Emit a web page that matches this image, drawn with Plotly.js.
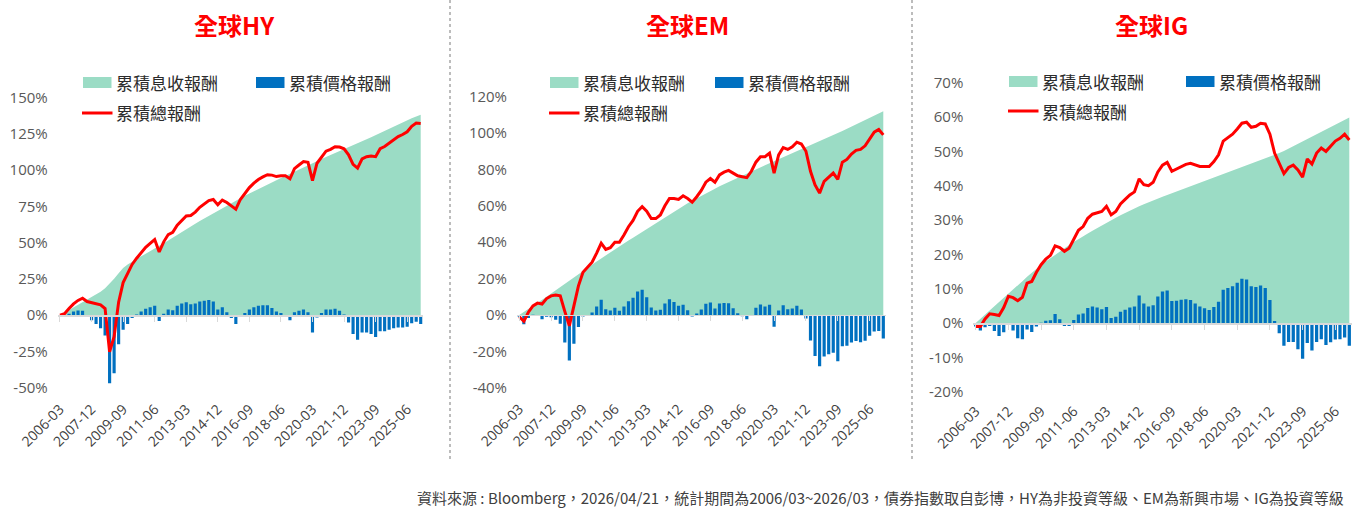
<!DOCTYPE html>
<html>
<head>
<meta charset="utf-8">
<script src="https://cdn.plot.ly/plotly-3.0.1.min.js"></script>
<style>
  html, body { margin: 0; padding: 0; background: #fff; }
  #chart { width: 1357px; height: 511px; }
</style>
</head>
<body>
<div id="chart"></div>
<script>
// quarterly points, 2006-03 .. 2026-03
const quarters = [
  "2006-03", "2006-06", "2006-09", "2006-12", "2007-03", "2007-06", "2007-09", "2007-12",
  "2008-03", "2008-06", "2008-09", "2008-12", "2009-03", "2009-06", "2009-09", "2009-12",
  "2010-03", "2010-06", "2010-09", "2010-12", "2011-03", "2011-06", "2011-09", "2011-12",
  "2012-03", "2012-06", "2012-09", "2012-12", "2013-03", "2013-06", "2013-09", "2013-12",
  "2014-03", "2014-06", "2014-09", "2014-12", "2015-03", "2015-06", "2015-09", "2015-12",
  "2016-03", "2016-06", "2016-09", "2016-12", "2017-03", "2017-06", "2017-09", "2017-12",
  "2018-03", "2018-06", "2018-09", "2018-12", "2019-03", "2019-06", "2019-09", "2019-12",
  "2020-03", "2020-06", "2020-09", "2020-12", "2021-03", "2021-06", "2021-09", "2021-12",
  "2022-03", "2022-06", "2022-09", "2022-12", "2023-03", "2023-06", "2023-09", "2023-12",
  "2024-03", "2024-06", "2024-09", "2024-12", "2025-03", "2025-06", "2025-09", "2025-12",
  "2026-03"
];
const tickLabels = ["2006-03", "2007-12", "2009-09", "2011-06", "2013-03", "2014-12",
  "2016-09", "2018-06", "2020-03", "2021-12", "2023-09", "2025-06"];

const seriesNames = ["累積息收報酬", "累積價格報酬", "累積總報酬"];
const panelTitles = ["全球HY", "全球EM", "全球IG"];
const footnote = "資料來源 : Bloomberg，2026/04/21，統計期間為2006/03~2026/03，債券指數取自彭博，HY為非投資等級、EM為新興市場、IG為投資等級";

// Global HY (%)
const hyIncome = [
  0, 1.8, 3.6, 5.3, 7.0, 8.7, 10.4, 12.2, 14.1, 16.2,
  18.6, 21.8, 25.2, 29.0, 32.5, 35.0, 37.0, 38.8, 40.6, 42.3,
  44.0, 45.7, 47.6, 49.6, 51.6, 53.6, 55.6, 57.5, 59.4, 61.3,
  63.1, 64.9, 66.7, 68.5, 70.3, 72.1, 73.9, 75.7, 77.4, 79.1,
  80.8, 82.4, 84.0, 85.6, 87.1, 88.6, 90.1, 91.6, 93.1, 94.6,
  96.1, 97.6, 99.1, 100.6, 102.0, 103.4, 104.8, 106.3, 107.7, 109.1,
  110.4, 111.7, 113.0, 114.3, 115.6, 117.0, 118.4, 119.8, 121.3, 122.8,
  124.3, 125.8, 127.3, 128.8, 130.3, 131.7, 133.1, 134.5, 135.8, 137.0,
  138.2
];
const hyPrice = [
  0, -0.8, 1.0, 2.5, 3.2, 3.0, -1.0, -3.5, -6.0, -9.0,
  -14.0, -47.0, -40.0, -20.0, -10.0, -6.0, -2.0, 0.5, 2.5, 4.5,
  5.5, 6.5, -4.0, 1.0, 4.0, 3.5, 6.5, 8.0, 9.0, 7.5,
  8.0, 9.5, 10.0, 10.5, 9.5, 4.0, 5.5, 2.0, -2.0, -6.0,
  -1.0, 1.5, 4.0, 5.5, 6.5, 6.8, 6.8, 5.0, 2.5, 1.5,
  0.0, -3.5, 2.0, 3.0, 4.0, 2.0, -12.0, -1.5, 1.5, 4.0,
  4.0, 4.5, 3.0, 0.5, -5.0, -13.0, -17.0, -12.0, -12.0, -13.0,
  -15.0, -11.0, -11.0, -10.0, -9.0, -8.5, -8.5, -8.0, -5.5, -4.5,
  -6.0
];
const hyTotal = [
  0, 1.0, 4.6, 7.8, 10.2, 11.7, 9.4, 8.7, 8.1, 7.2,
  4.6, -25.2, -14.8, 9.0, 22.5, 29.0, 35.0, 39.3, 43.1, 46.8,
  49.5, 52.2, 43.6, 50.6, 55.6, 57.1, 62.1, 65.5, 68.4, 68.8,
  71.1, 74.4, 76.7, 79.0, 79.8, 76.1, 79.4, 77.7, 75.4, 73.1,
  79.8, 83.9, 88.0, 91.1, 93.6, 95.4, 96.9, 96.6, 95.6, 96.1,
  96.1, 94.1, 101.1, 103.6, 106.0, 105.4, 92.8, 104.8, 109.2, 113.1,
  114.4, 116.2, 116.0, 114.8, 110.6, 104.0, 101.4, 107.8, 109.3, 109.8,
  109.3, 114.8, 116.3, 118.8, 121.3, 123.2, 124.6, 126.5, 130.3, 132.5,
  132.2
];

// Global EM (%)
const emIncome = [
  0, 1.6, 3.2, 4.9, 6.6, 8.3, 10.0, 11.8, 13.6, 15.4,
  17.2, 19.0, 20.8, 22.6, 24.3, 26.0, 27.7, 29.4, 31.1, 32.8,
  34.5, 36.1, 37.7, 39.3, 40.9, 42.5, 44.1, 45.7, 47.3, 48.9,
  50.5, 52.1, 53.7, 55.3, 56.9, 58.4, 59.9, 61.4, 62.8, 64.2,
  65.5, 66.8, 68.1, 69.4, 70.7, 71.9, 73.1, 74.3, 75.5, 76.7,
  77.9, 79.0, 80.1, 81.2, 82.3, 83.4, 84.5, 85.6, 86.7, 87.8,
  88.9, 90.0, 91.0, 92.0, 93.0, 94.1, 95.2, 96.4, 97.6, 98.8,
  100.0, 101.2, 102.4, 103.6, 104.8, 106.0, 107.2, 108.4, 109.6, 110.8,
  112.0
];
const emPrice = [
  -1.0, -5.1, -1.7, 0.1, -0.1, -2.3, -1.0, -1.3, -2.6, -4.9,
  -15.2, -25.0, -15.8, -6.6, -0.8, 0.0, 1.3, 4.6, 8.4, 3.2,
  2.5, 3.9, 2.3, 4.7, 7.6, 9.5, 12.9, 13.8, 9.7, 4.1,
  2.5, 2.9, 6.3, 8.7, 7.1, 5.1, 5.6, 2.6, -0.8, 0.8,
  3.0, 6.2, 6.9, 3.6, 6.3, 6.6, 6.4, 3.7, 1.0, -0.7,
  -2.4, 0.0, 3.9, 5.8, 4.7, 5.6, -6.5, 2.4, 5.3, 3.2,
  3.6, 5.0, 3.0, -2.0, -14.0, -22.6, -28.2, -22.9, -21.6, -20.8,
  -25.5, -17.2, -16.9, -15.1, -14.3, -15.0, -14.2, -11.4, -9.1, -8.8,
  -13.0
];
const emTotal = [
  -1.0, -3.5, 1.5, 5.0, 6.5, 6.0, 9.0, 10.5, 11.0, 10.5,
  2.0, -6.0, 5.0, 16.0, 23.5, 26.0, 29.0, 34.0, 39.5, 36.0,
  37.0, 40.0, 40.0, 44.0, 48.5, 52.0, 57.0, 59.5, 57.0, 53.0,
  53.0, 55.0, 60.0, 64.0, 64.0, 63.5, 65.5, 64.0, 62.0, 65.0,
  68.5, 73.0, 75.0, 73.0, 77.0, 78.5, 79.5, 78.0, 76.5, 76.0,
  75.5, 79.0, 84.0, 87.0, 87.0, 89.0, 78.0, 88.0, 92.0, 91.0,
  92.5, 95.0, 94.0, 90.0, 79.0, 71.5, 67.0, 73.5, 76.0, 78.0,
  74.5, 84.0, 85.5, 88.5, 90.5, 91.0, 93.0, 97.0, 100.5, 102.0,
  99.0
];

// Global IG (%)
const igIncome = [
  0, 1.2, 2.4, 3.6, 4.8, 6.0, 7.2, 8.4, 9.6, 10.9,
  12.2, 13.5, 14.7, 15.8, 16.9, 17.9, 18.9, 19.9, 20.9, 21.8,
  22.7, 23.6, 24.5, 25.3, 26.1, 26.9, 27.7, 28.5, 29.3, 30.0,
  30.7, 31.4, 32.1, 32.8, 33.4, 34.0, 34.6, 35.2, 35.8, 36.3,
  36.8, 37.3, 37.8, 38.3, 38.8, 39.3, 39.8, 40.3, 40.8, 41.3,
  41.8, 42.3, 42.8, 43.3, 43.8, 44.3, 44.8, 45.3, 45.8, 46.3,
  46.8, 47.3, 47.8, 48.3, 48.9, 49.5, 50.1, 50.8, 51.5, 52.2,
  52.9, 53.6, 54.3, 55.0, 55.7, 56.4, 57.1, 57.8, 58.5, 59.2,
  59.9
];
const igPrice = [
  -1.0, -2.2, -1.2, -0.9, -2.3, -3.8, -2.7, -0.6, -2.2, -4.4,
  -4.7, -1.9, -2.6, -1.0, 0.1, 0.7, 0.8, 2.6, 1.1, -0.9,
  -0.9, 0.9, 2.5, 2.8, 4.4, 4.8, 4.5, 4.0, 4.7, 1.5,
  1.8, 3.3, 3.9, 4.5, 4.8, 8.0, 5.7, 4.8, 5.2, 7.7,
  9.2, 9.5, 6.4, 6.5, 6.8, 6.9, 6.7, 5.7, 4.8, 4.3,
  3.8, 4.7, 6.2, 9.7, 10.2, 10.7, 11.7, 12.9, 12.7, 10.7,
  10.5, 10.9, 10.2, 6.7, 0.6, -3.0, -6.6, -5.5, -5.5, -7.6,
  -10.4, -5.8, -8.0, -5.5, -4.7, -6.4, -5.6, -4.8, -4.7, -4.2,
  -6.6
];
const igTotal = [
  -1.0, -1.0, 1.2, 2.7, 2.5, 2.2, 4.5, 7.8, 7.4, 6.5,
  7.5, 11.6, 12.1, 14.8, 17.0, 18.6, 19.7, 22.5, 22.0, 20.9,
  21.8, 24.5, 27.0, 28.1, 30.5, 31.7, 32.2, 32.5, 34.0, 31.5,
  32.5, 34.7, 36.0, 37.3, 38.2, 42.0, 40.3, 40.0, 41.0, 44.0,
  46.0, 46.8, 44.2, 44.8, 45.6, 46.2, 46.5, 46.0, 45.6, 45.6,
  45.6, 47.0, 49.0, 53.0, 54.0, 55.0, 56.5, 58.2, 58.5, 57.0,
  57.3, 58.2, 58.0, 55.0, 49.5, 46.5, 43.5, 45.3, 46.0, 44.6,
  42.5, 47.8, 46.3, 49.5, 51.0, 50.0, 51.5, 53.0, 53.8, 55.0,
  53.3
];

const hyTicks = [-50, -25, 0, 25, 50, 75, 100, 125, 150];
const emTicks = [-40, -20, 0, 20, 40, 60, 80, 100, 120];
const igTicks = [-20, -10, 0, 10, 20, 30, 40, 50, 60, 70];

const W = 1357, H = 511;
const px = (x) => x / W;
const py = (y) => 1 - y / H;

const GREEN = "#9BDCC5";
const BLUE = "#0070C0";
const RED = "#FF0000";
const TEXT = "#404040";
const NUM_FONT = "Open Sans, Noto Sans, sans-serif";
const CJK_FONT = "Noto Sans CJK TC, Noto Sans, sans-serif";

const panels = [
  { income: hyIncome, price: hyPrice, total: hyTotal, ticks: hyTicks,
    first: 60, last: 420.7, top: 97.7, bottom: 387.7, boxLeft: 83, box2Left: 256, legTop: 77, lineY: 113,
    titleX: 234, sepX: 450, standoff: 74 },
  { income: emIncome, price: emPrice, total: emTotal, ticks: emTicks,
    first: 519.3, last: 883.3, top: 96.7, bottom: 387.7, boxLeft: 550, box2Left: 715, legTop: 77, lineY: 113,
    titleX: 687, sepX: 912, standoff: 74 },
  { income: igIncome, price: igPrice, total: igTotal, ticks: igTicks,
    first: 975.7, last: 1349.3, top: 82.7, bottom: 391.7, boxLeft: 1009, box2Left: 1186, legTop: 76, lineY: 111,
    titleX: 1151, sepX: null, standoff: 68 }
];

const traces = [];
const layout = {
  width: W,
  height: H,
  margin: { l: 0, r: 0, t: 0, b: 0 },
  paper_bgcolor: "#fff",
  plot_bgcolor: "rgba(0,0,0,0)",
  showlegend: false,
  bargap: 0.3,
  shapes: [],
  annotations: []
};

panels.forEach((p, i) => {
  const n = quarters.length;
  const xa = i === 0 ? "x" : "x" + (i + 1);
  const ya = i === 0 ? "y" : "y" + (i + 1);
  const yo = "y" + (i + 4);
  const step = (p.last - p.first) / (n - 1);
  const lo = p.ticks[0], hi = p.ticks[p.ticks.length - 1];
  const yDom = [py(p.bottom), py(p.top)];
  const zeroPos = yDom[0] + (0 - lo) / (hi - lo) * (yDom[1] - yDom[0]);

  traces.push({
    x: quarters, y: p.income, name: seriesNames[0],
    xaxis: xa, yaxis: ya, type: "scatter", mode: "lines",
    line: { width: 0, color: GREEN }, fill: "tozeroy", fillcolor: GREEN
  });
  traces.push({
    x: quarters, y: p.price, name: seriesNames[1],
    xaxis: xa, yaxis: yo, type: "bar", marker: { color: BLUE }
  });
  traces.push({
    x: quarters, y: p.total, name: seriesNames[2],
    xaxis: xa, yaxis: yo, type: "scatter", mode: "lines",
    line: { color: RED, width: 3 }
  });

  layout["xaxis" + (i === 0 ? "" : i + 1)] = {
    type: "category",
    domain: [px(p.first - step / 2), px(p.last + step / 2)],
    range: [-0.5, n - 0.5],
    anchor: "free",
    position: zeroPos,
    tickmode: "array",
    tickvals: tickLabels,
    ticktext: tickLabels,
    ticks: "outside",
    ticklen: 5,
    tickcolor: "#D9D9D9",
    showline: true,
    linecolor: "#D9D9D9",
    linewidth: 1.5,
    tickangle: -45,
    ticklabelstandoff: p.standoff,
    tickfont: { family: NUM_FONT, size: 14, color: TEXT },
    showgrid: false,
    zeroline: false,
    fixedrange: true
  };
  layout["yaxis" + (i === 0 ? "" : i + 1)] = {
    domain: yDom,
    range: [lo, hi],
    anchor: xa,
    tickmode: "array",
    tickvals: p.ticks,
    ticktext: p.ticks.map((v) => v + "%"),
    ticks: "",
    ticklabelstandoff: 9,
    tickfont: { family: NUM_FONT, size: 15, color: "#595959" },
    showgrid: false,
    zeroline: false,
    showline: false,
    fixedrange: true
  };
  layout["yaxis" + (i + 4)] = {
    overlaying: ya,
    anchor: xa,
    range: [lo, hi],
    visible: false,
    fixedrange: true
  };

  // legend: two boxes on the first row, the line on the second
  const legMid = p.legTop + 5.5;
  layout.shapes.push(
    { type: "rect", xref: "paper", yref: "paper", x0: px(p.boxLeft), x1: px(p.boxLeft + 28.5),
      y0: py(p.legTop + 11), y1: py(p.legTop), fillcolor: GREEN, line: { width: 0 } },
    { type: "rect", xref: "paper", yref: "paper", x0: px(p.box2Left), x1: px(p.box2Left + 28.5),
      y0: py(p.legTop + 11), y1: py(p.legTop), fillcolor: BLUE, line: { width: 0 } },
    { type: "line", xref: "paper", yref: "paper", x0: px(p.boxLeft - 1), x1: px(p.boxLeft + 29.5),
      y0: py(p.lineY), y1: py(p.lineY), line: { color: RED, width: 3 } }
  );
  [[p.boxLeft + 31, legMid, seriesNames[0]],
   [p.box2Left + 31, legMid, seriesNames[1]],
   [p.boxLeft + 31, p.lineY, seriesNames[2]]].forEach(([x, y, t]) => {
    layout.annotations.push({
      xref: "paper", yref: "paper", x: px(x), y: py(y), xanchor: "left", yanchor: "middle",
      text: t, showarrow: false, font: { family: CJK_FONT, size: 17, color: "#2B2B2B" }
    });
  });

  layout.annotations.push({
    xref: "paper", yref: "paper", x: px(p.titleX), y: py(25), xanchor: "center", yanchor: "middle",
    text: "<b>" + panelTitles[i] + "</b>", showarrow: false,
    font: { family: CJK_FONT, size: 24, color: RED }
  });

  if (p.sepX) {
    layout.shapes.push({
      type: "line", xref: "paper", yref: "paper", x0: px(p.sepX), x1: px(p.sepX),
      y0: py(0), y1: py(462), line: { color: "#A6A6A6", width: 1.5, dash: "dot" }
    });
  }
});

layout.annotations.push({
  xref: "paper", yref: "paper", x: px(1346), y: py(497), xanchor: "right", yanchor: "middle",
  text: footnote, showarrow: false, font: { family: CJK_FONT, size: 15, color: TEXT }
});

Plotly.newPlot("chart", traces, layout, { displayModeBar: false, staticPlot: true });
</script>
</body>
</html>
